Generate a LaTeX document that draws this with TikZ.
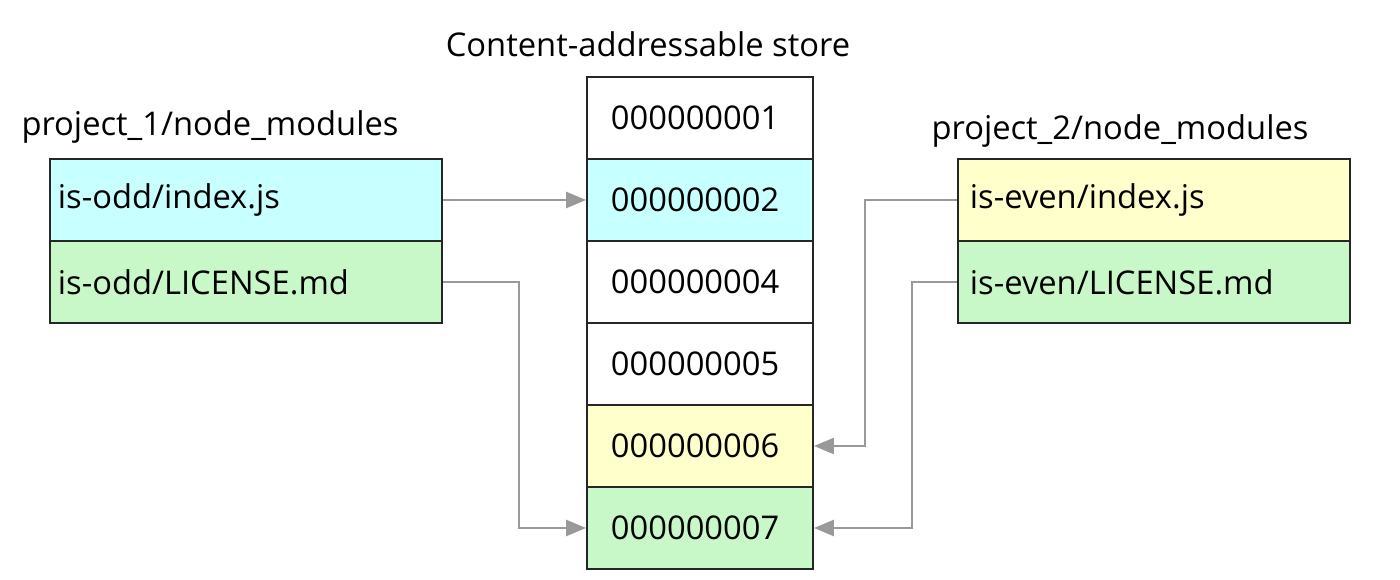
\documentclass[tikz,border=0pt]{standalone}
\usepackage{fontspec}
\setmainfont{Open Sans}
\usetikzlibrary{arrows.meta,positioning}
\definecolor{cellcyan}{HTML}{C8FFFF}
\definecolor{cellgreen}{HTML}{C8F8C8}
\definecolor{cellyellow}{HTML}{FFFFCC}
\definecolor{linkgray}{HTML}{999999}

\begin{document}
\begin{tikzpicture}[x=0.01cm, y=-0.01cm,
      cell/.style={draw=black!85, line width=0.5pt, minimum height=0.82cm,
        inner ysep=0pt, align=left, font=\fontsize{9.3}{11}\selectfont},
      leftfile/.style={cell, inner xsep=0.08cm, text width=3.76cm},
      rightfile/.style={cell, inner xsep=0.12cm, text width=3.68cm},
      storecell/.style={cell, inner xsep=0.24cm, text width=1.78cm},
      heading/.style={font=\fontsize{9.3}{11}\selectfont},
      link/.style={-{Triangle[length=2mm, width=1.6mm]}, draw=linkgray, line width=0.7pt},
    ]
    \useasboundingbox (0,0) rectangle (1400,580);

    % Headings
    \node[heading] (storetitle) at (648,44) {Content-addressable store};
    \node[heading] (proj1) at (210,127) {project\_1/node\_modules};
    \node[heading] (proj2) at (1120,131) {project\_2/node\_modules};

    % Store
    \foreach \hash/\col [count=\i] in {000000001/white, 000000002/cellcyan,
        000000004/white, 000000005/white, 000000006/cellyellow, 000000007/cellgreen}
      \node[storecell, fill=\col] (s\i) at (700,{118+82*(\i-1)}) {\hash};

    % Project 1
    \node[leftfile, fill=cellcyan] (l1) at (246,200) {is-odd/index.js};
    \node[leftfile, fill=cellgreen] (l2) at (246,282) {is-odd/LICENSE.md};

    % Project 2
    \node[rightfile, fill=cellyellow] (r1) at (1154,200) {is-even/index.js};
    \node[rightfile, fill=cellgreen] (r2) at (1154,282) {is-even/LICENSE.md};

    % Links
    \draw[link] (l1.east) -- (s2.west);
    \draw[link] (l2.east) -- ++(76,0) |- (s6.west);
    \draw[link] (r1.west) -- ++(-92,0) |- (s5.east);
    \draw[link] (r2.west) -- ++(-45,0) |- (s6.east);
  \end{tikzpicture}
\end{document}
